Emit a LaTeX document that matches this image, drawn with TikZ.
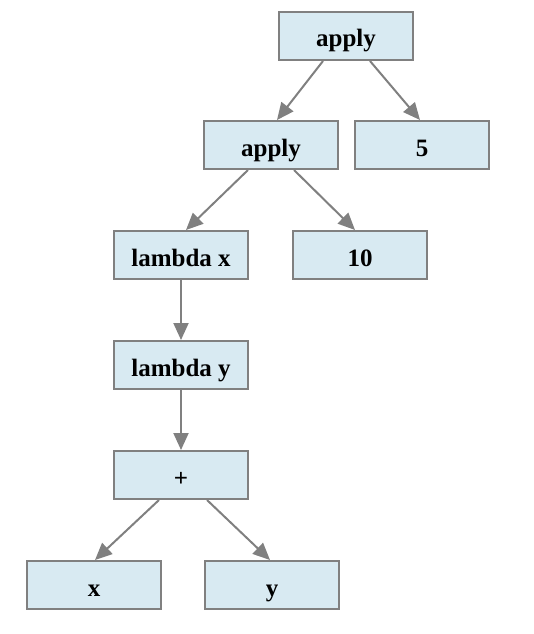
\documentclass[tikz,border=0pt]{standalone}
\usepackage{fontspec}
\setmainfont{Liberation Serif}
\usetikzlibrary{arrows.meta,calc}
\definecolor{boxfill}{HTML}{D8EAF2}
\definecolor{boxline}{HTML}{808080}
\begin{document}
\begin{tikzpicture}[x=1pt,y=-1pt,
  tbox/.style={draw=boxline,fill=boxfill,line width=2pt,minimum width=134pt,minimum height=48pt,inner sep=0pt,text height=24pt,text depth=2pt,font=\fontsize{25}{28}\selectfont\bfseries},
  conn/.style={draw=boxline,line width=2pt,-{Triangle[length=17pt,width=15pt]}}]
\useasboundingbox (0,0) rectangle (534,634);
\node[tbox] (a1) at (346,36) {apply};
\node[tbox] (a2) at (271,145) {apply};
\node[tbox] (n5) at (422,145) {5};
\node[tbox] (lx) at (181,255) {lambda x};
\node[tbox] (n10) at (360,255) {10};
\node[tbox] (ly) at (181,365) {lambda y};
\node[tbox] (pl) at (181,475) {+};
\node[tbox] (vx) at (94,585) {x};
\node[tbox] (vy) at (272,585) {y};
\draw[conn] ($(a1.south)+(-23,0)$) -- ($(a2.north)+(6,0)$);
\draw[conn] ($(a1.south)+(24,0)$) -- ($(n5.north)+(-2,0)$);
\draw[conn] ($(a2.south)+(-23,0)$) -- ($(lx.north)+(5,0)$);
\draw[conn] ($(a2.south)+(23,0)$) -- ($(n10.north)+(-5,0)$);
\draw[conn] (lx.south) -- (ly.north);
\draw[conn] (ly.south) -- (pl.north);
\draw[conn] ($(pl.south)+(-22,0)$) -- ($(vx.north)+(1,0)$);
\draw[conn] ($(pl.south)+(26,0)$) -- ($(vy.north)+(-2,0)$);
\end{tikzpicture}
\end{document}
